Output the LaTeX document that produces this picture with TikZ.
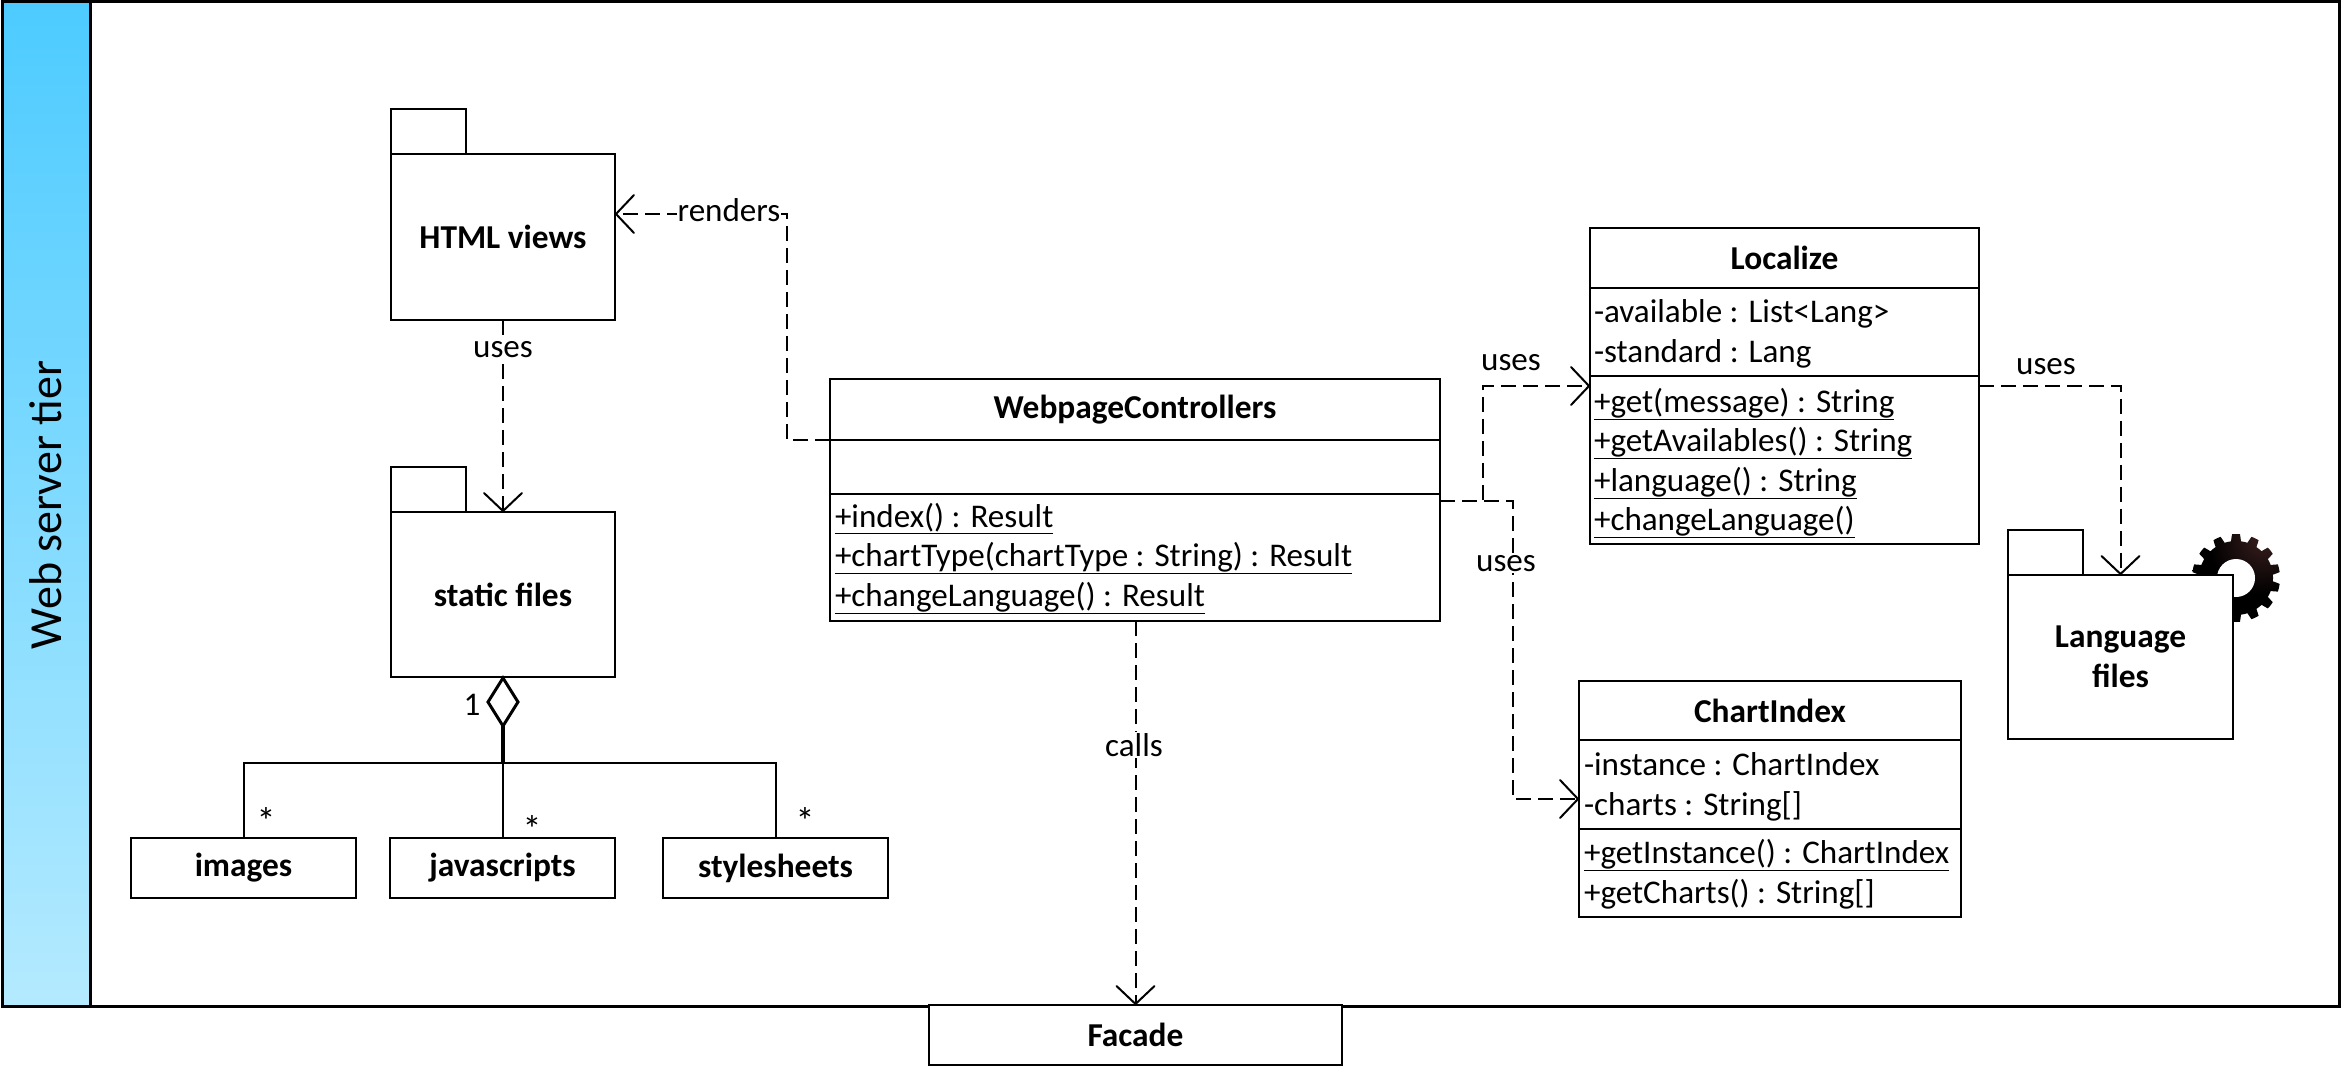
\documentclass[tikz,border=0pt]{standalone}
\usepackage{fontspec}
\setmainfont{Carlito}
\usetikzlibrary{arrows.meta,shapes.geometric}
\definecolor{bandTop}{HTML}{4DCBFF}
\definecolor{bandBot}{HTML}{B4EAFF}
\pgfdeclareradialshading{gearshade}{\pgfpoint{18bp}{26bp}}{rgb(0bp)=(.25,.13,.13); rgb(28bp)=(0,0,0); rgb(100bp)=(0,0,0)}
\tikzset{
  x=1pt,y=-1pt,
  every node/.style={font=\fontsize{33.1}{40}\selectfont, inner sep=0pt, outer sep=0pt},
  umlbox/.style={draw=black,line width=2.9pt,fill=white,anchor=north west,align=center},
  bfont/.style={font=\fontsize{33.4}{40}\selectfont\bfseries},
  row/.style={anchor=west,text height=24pt,text depth=4pt},
  lab/.style={fill=white,inner xsep=1pt,inner ysep=1pt},
  dep/.style={line width=2pt,dash pattern=on 15pt off 7pt,-{Straight Barb[length=18pt,width=38pt,line width=2pt,round=false]}},
  thin line/.style={line width=2pt},
  starlab/.style={font=\fontsize{38}{40}\selectfont},
}
\newcommand\umlb[6]{%
  \pgfmathsetmacro\bw{#4-#2}\pgfmathsetmacro\bh{#5-#3}%
  \node[umlbox,bfont,minimum width=\bw pt,minimum height=\bh pt] (#1) at (#2,#3) {#6};}
\begin{document}
\begin{tikzpicture}
\useasboundingbox (0,0) rectangle (2342,1067);
\fill[white] (0,0) rectangle (2342,1067);
% tier frame
\node[umlbox,line width=3pt,minimum width=2337pt,minimum height=1004pt] (tier) at (2,2) {};
\node[draw=black,line width=3pt,anchor=north west,minimum width=88pt,minimum height=1004pt,top color=bandTop,bottom color=bandBot] (band) at (2,2) {};
\node[rotate=90,font=\fontsize{46}{50}\selectfont] (tiertxt) at (46,505) {Web server tier};
% gear
\begin{scope}[shift={(2236,578)}]
\path[shading=gearshade] plot[domain=0:360,samples=281] ({(37+7*max(0,min(1,0.5+1.6*cos(14*(\x-90)))))*cos(\x)},{(37+7*max(0,min(1,0.5+1.6*cos(14*(\x-90)))))*sin(\x)}) -- cycle;
\fill[white] (0,0) circle (19);
\end{scope}
% packages
\umlb{htmlT}{391}{109}{466}{154}{}
\umlb{html}{391}{154}{615}{320}{HTML views}
\umlb{statT}{391}{467}{466}{512}{}
\umlb{stat}{391}{512}{615}{677}{static files}
\umlb{langT}{2008}{530}{2083}{575}{}
\umlb{lang}{2008}{575}{2233}{739}{Language\\files}
% small boxes
\umlb{img}{131}{838}{356}{898}{images}
\umlb{js}{390}{838}{615}{898}{javascripts}
\umlb{ss}{663}{838}{888}{898}{stylesheets}
\umlb{fac}{929}{1005}{1342}{1065}{Facade}
% WebpageControllers
\umlb{webT}{830}{379}{1440}{440}{WebpageControllers}
\umlb{webA}{830}{440}{1440}{494}{}
\umlb{webM}{830}{494}{1440}{621}{}
\node[row] (w1) at (835,517) {\underline{+index() : Result}};
\node[row] (w2) at (835,556) {\underline{+chartType(chartType : String) : Result}};
\node[row] (w3) at (835,596) {\underline{+changeLanguage() : Result}};
% Localize
\umlb{locT}{1590}{228}{1979}{288}{Localize}
\umlb{locA}{1590}{288}{1979}{376}{}
\umlb{locM}{1590}{376}{1979}{544}{}
\node[row] (l1) at (1594,312) {-available : List<Lang>};
\node[row] (l2) at (1594,352) {-standard : Lang};
\node[row] (l3) at (1594,402) {\underline{+get(message) : String}};
\node[row] (l4) at (1594,441) {\underline{+getAvailables() : String}};
\node[row] (l5) at (1594,481) {\underline{+language() : String}};
\node[row] (l6) at (1594,520) {\underline{+changeLanguage()}};
% ChartIndex
\umlb{chT}{1579}{681}{1961}{740}{ChartIndex}
\umlb{chA}{1579}{740}{1961}{829}{}
\umlb{chM}{1579}{829}{1961}{917}{}
\node[row] (c1) at (1584,765) {-instance : ChartIndex};
\node[row] (c2) at (1584,805) {-charts : String[]};
\node[row] (c3) at (1584,853) {\underline{+getInstance() : ChartIndex}};
\node[row] (c4) at (1584,893) {+getCharts() : String[]};
% aggregation
\node[diamond,draw=black,line width=3pt,fill=white,aspect=.625,minimum width=30pt,minimum height=48pt,anchor=north] (diam) at (503,678) {};
\draw[line width=3.5pt] (diam.south) -- ++(0,37) coordinate (junc);
\draw[thin line] (img.north) -- (img.north |- junc) -- (ss.north |- junc) -- (ss.north);
\draw[thin line] (js.north) -- (js.north |- junc);
\node (m1) at (472,705) {1};
\node[starlab] (m2) at (266,821) {*};
\node[starlab] (m3) at (532,829) {*};
\node[starlab] (m4) at (805,821) {*};
% dependencies
\draw[dep] (html.south) -- (stat.north);
\draw[dep] (webT.south west) -- ++(-43,0) |- ([yshift=23pt]html.east);
\draw[dep] (webM.south -| fac.north) -- (fac.north);
\draw[dep] ([yshift=-7pt]webM.north east) -- ++(43,0) |- ([yshift=-10pt]locM.north west);
\draw[dep] ([yshift=-7pt]webM.north east) -- ++(73,0) |- ([yshift=-59pt]chA.north west);
\draw[dep] ([yshift=-10pt]locM.north east) -| (lang.north);
% labels
\node[lab] (u1) at (503,350) {uses};
\node[lab] (u2) at (729,210) {renders};
\node[lab] (u3) at (1134,745) {calls};
\node (u4) at (1511,363) {uses};
\node[lab] (u5) at (1506,564) {uses};
\node (u6) at (2046,367) {uses};
\end{tikzpicture}
\end{document}
